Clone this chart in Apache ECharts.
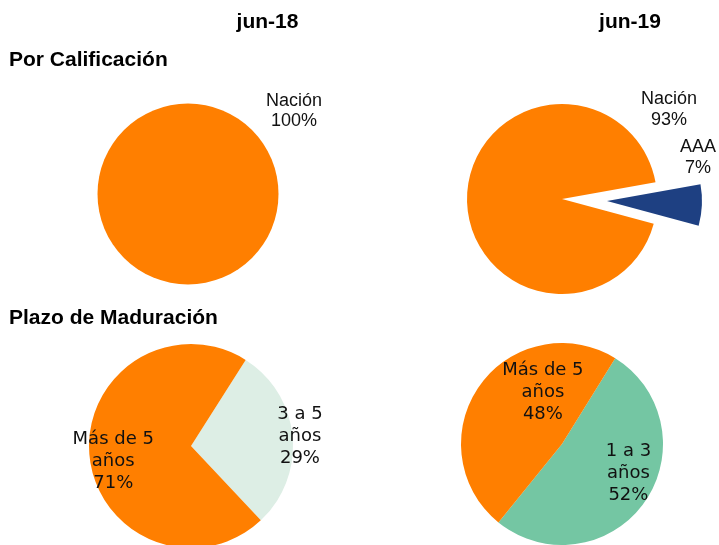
<!DOCTYPE html>
<html>
<head>
<meta charset="utf-8">
<script src="https://cdn.jsdelivr.net/npm/echarts@6/dist/echarts.min.js"></script>
<style>
html,body{margin:0;padding:0;background:#fff;}
#c{width:719px;height:545px;}
</style>
</head>
<body>
<div id="c"></div>
<script>
// ---- data ----
const periods = ['jun-18', 'jun-19'];
const sectionTitles = ['Por Calificación', 'Plazo de Maduración'];
const ratingCats18 = ['Nación'];
const ratingVals18 = [100];
const ratingCats19 = ['AAA', 'Nación'];
const ratingVals19 = [7, 93];
const termCats18 = ['3 a 5 años', 'Más de 5 años'];
const termVals18 = [29, 71];
const termCats19 = ['1 a 3 años', 'Más de 5 años'];
const termVals19 = [52, 48];

// ---- styles ----
const colorMap = {
  'Nación': '#FF7F00',
  'AAA': '#1E4082',
  'Más de 5 años': '#FF7F00',
  '3 a 5 años': '#DDEEE5',
  '1 a 3 años': '#74C6A3'
};
const sansFont = '"Liberation Sans", Arial, Helvetica, sans-serif';
const verdFont = '"DejaVu Sans", Verdana, sans-serif';

function build(cats, vals, opts) {
  return cats.map((c, i) => {
    const o = (opts && opts[i]) || {};
    const off = o.offset || [0, 0];
    const d = {
      name: c,
      value: vals[i],
      itemStyle: { color: colorMap[c] },
      label: { offset: off },
      select: { label: { offset: off } }
    };
    if (o.selected) d.selected = true;
    return d;
  });
}
function fmtSans(p) { return p.name + '\n' + p.value + '%'; }
function fmtVerd(p) { return p.name.replace(' años', '\naños') + '\n' + p.value + '%'; }

const common = {
  type: 'pie',
  animation: false,
  silent: true,
  avoidLabelOverlap: false,
  labelLine: { show: false },
  emphasis: { disabled: true },
  itemStyle: { borderWidth: 0 }
};

const chart = echarts.init(document.getElementById('c'), null, { renderer: 'canvas' });
chart.setOption({
  backgroundColor: '#ffffff',
  graphic: [
    { type: 'text', x: 267.5, y: 22.7, style: { text: periods[0], font: 'bold 21px ' + sansFont, fill: '#000', align: 'center', verticalAlign: 'middle' } },
    { type: 'text', x: 630, y: 22, style: { text: periods[1], font: 'bold 21px ' + sansFont, fill: '#000', align: 'center', verticalAlign: 'middle' } },
    { type: 'text', x: 9, y: 60.7, style: { text: sectionTitles[0], font: 'bold 21px ' + sansFont, fill: '#000', align: 'left', verticalAlign: 'middle' } },
    { type: 'text', x: 9, y: 318.7, style: { text: sectionTitles[1], font: 'bold 21px ' + sansFont, fill: '#000', align: 'left', verticalAlign: 'middle' } }
  ],
  series: [
    Object.assign({}, common, {
      center: [188, 194], radius: 90.5, startAngle: 90,
      label: { show: true, position: 'center', formatter: fmtSans, fontFamily: sansFont, fontSize: 18, lineHeight: 20, color: '#111' },
      data: build(ratingCats18, ratingVals18, [{ offset: [106, -82.5] }])
    }),
    Object.assign({}, common, {
      center: [562, 199], radius: 95, startAngle: 10.1,
      selectedMode: 'single', selectedOffset: 45,
      label: { show: true, position: 'inside', formatter: fmtSans, fontFamily: sansFont, fontSize: 18, lineHeight: 21, color: '#111' },
      data: build(ratingCats19, ratingVals19, [{ offset: [40.6, -45.7], selected: true }, { offset: [157.5, -87.7] }])
    }),
    Object.assign({}, common, {
      center: [191, 446], radius: 102, startAngle: 57.6,
      label: { show: true, position: 'inside', formatter: fmtVerd, fontFamily: verdFont, fontSize: 18, lineHeight: 22, color: '#111' },
      data: build(termCats18, termVals18, [{ offset: [55.2, -4.7] }, { offset: [-24, 10.7] }])
    }),
    Object.assign({}, common, {
      center: [562, 444], radius: 101, startAngle: 58.2,
      label: { show: true, position: 'inside', formatter: fmtVerd, fontFamily: verdFont, fontSize: 18, lineHeight: 22, color: '#111' },
      data: build(termCats19, termVals19, [{ offset: [22.8, -1.5] }, { offset: [24.5, -21] }])
    })
  ]
});
</script>
</body>
</html>
